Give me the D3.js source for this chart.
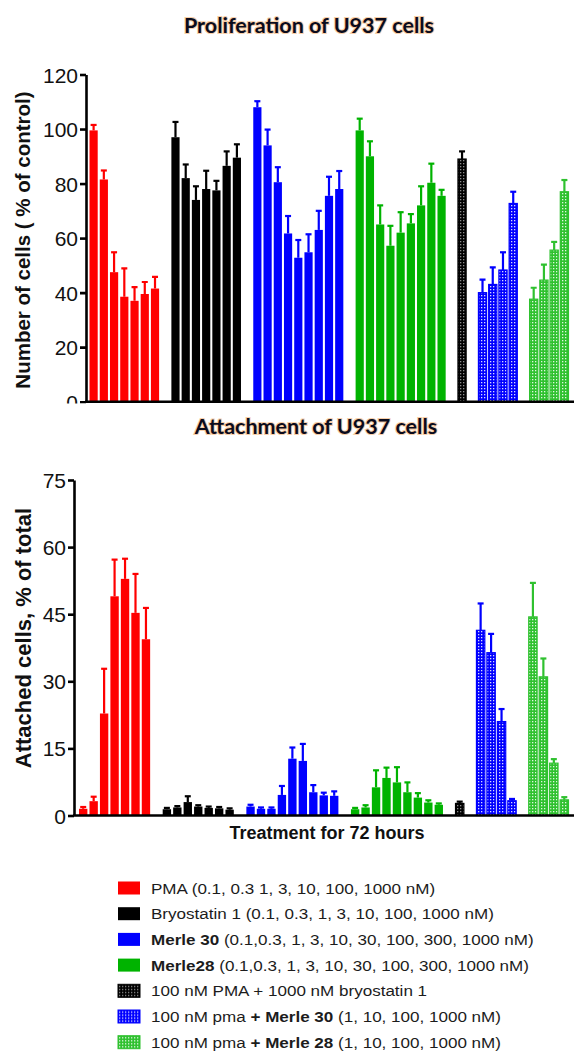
<!DOCTYPE html>
<html>
<head>
<meta charset="utf-8">
<script src="https://cdn.jsdelivr.net/npm/d3@7"></script>
<style>
  body { margin: 0; background: #fff; }
  svg { display: block; }
  .tick text { font-family: "Liberation Sans", Arial, sans-serif; }
</style>
</head>
<body>
<div id="chart"></div>
<script>
// groups, in drawing order
const groups = ["PMA", "Bryostatin 1", "Merle 30", "Merle28", "PMA + bryo", "pma + Merle 30", "pma + Merle 28"];
const groupColors = ["#ff0000", "#000000", "#0000ff", "#00b300", "#000000", "#0000ff", "#2fc12f"];
const groupHatched = [false, false, false, false, true, true, true];

// proliferation, % of control
const prolifPMA = [99.5, 81.5, 47.5, 38.5, 37, 39.5, 41.5];
const prolifPMAErr = [2, 3.3, 7.3, 10.4, 5, 4.4, 4.3];
const prolifBryo = [97, 82, 74, 78, 77.5, 86.5, 89.5];
const prolifBryoErr = [5.6, 5, 5, 6.7, 3.5, 5.3, 4.9];
const prolifM30 = [108, 94, 80.5, 61.7, 52.8, 54.8, 63, 75.5, 78];
const prolifM30Err = [2.2, 5.8, 5.5, 6.4, 6.5, 6.6, 7, 7, 6.6];
const prolifM28 = [99.5, 90, 65, 57.2, 62, 65.4, 72, 80.3, 75.5];
const prolifM28Err = [4.3, 5.5, 7, 7.3, 7.5, 3.4, 7, 7, 2.2];
const prolifPmaBryo = [89];
const prolifPmaBryoErr = [2.8];
const prolifPmaM30 = [40, 43, 48.3, 72.7];
const prolifPmaM30Err = [4.8, 6.3, 6.5, 4.3];
const prolifPmaM28 = [37.6, 44.6, 55.6, 77];
const prolifPmaM28Err = [4.2, 5.7, 3, 4.3];

// attachment, % of total
const attachPMA = [1.5, 3.2, 22.8, 49, 52.9, 45.3, 39.4];
const attachPMAErr = [0.4, 1, 10, 8.2, 4.5, 8.7, 7];
const attachBryo = [1.4, 1.8, 3.0, 2.0, 1.7, 1.6, 1.3];
const attachBryoErr = [0.3, 0.3, 1.3, 0.3, 0.3, 0.3, 0.3];
const attachM30 = [2.0, 1.5, 1.5, 4.6, 12.7, 12.2, 5.2, 4.5, 4.4];
const attachM30Err = [0.4, 0.3, 0.3, 2.0, 2.5, 3.8, 1.6, 0.6, 1.0];
const attachM28 = [1.4, 1.8, 6.3, 8.4, 7.4, 5.2, 4.0, 2.9, 2.4];
const attachM28Err = [0.3, 0.5, 3.8, 2.3, 3.4, 2.2, 1.0, 0.5, 0.3];
const attachPmaBryo = [2.7];
const attachPmaBryoErr = [0.4];
const attachPmaM30 = [41.4, 36.4, 21, 3.3];
const attachPmaM30Err = [6, 4.2, 2.8, 0.4];
const attachPmaM28 = [44.4, 31, 11.7, 3.5];
const attachPmaM28Err = [7.6, 4.1, 0.9, 0.6];

const prolifTicks = [0, 20, 40, 60, 80, 100, 120];
const attachTicks = [0, 15, 30, 45, 60, 75];

const legendItems = [
  [["PMA (0.1, 0.3 1, 3, 10, 100, 1000 nM)", false]],
  [["Bryostatin 1 (0.1, 0.3, 1, 3, 10, 100, 1000 nM)", false]],
  [["Merle 30", true], [" (0.1,0.3, 1, 3, 10, 30, 100, 300, 1000 nM)", false]],
  [["Merle28", true], [" (0.1,0.3, 1, 3, 10, 30, 100, 300, 1000 nM)", false]],
  [["100 nM PMA + 1000 nM bryostatin 1", false]],
  [["100 nM pma ", false], ["+ Merle 30", true], [" (1, 10, 100, 1000 nM)", false]],
  [["100 nM pma ", false], ["+ Merle 28", true], [" (1, 10, 100, 1000 nM)", false]]
];

const W = 574, H = 1051;
const svg = d3.select("#chart").append("svg").attr("width", W).attr("height", H);
const defs = svg.append("defs");

// mesh fill for the combination bars
groupColors.forEach((c, i) => {
  if (!groupHatched[i]) return;
  const p = defs.append("pattern").attr("id", "mesh" + i)
    .attr("patternUnits", "userSpaceOnUse").attr("width", 3).attr("height", 3);
  p.append("rect").attr("width", 3).attr("height", 3).attr("fill", c);
  p.append("rect").attr("x", 1).attr("y", 1).attr("width", 1.3).attr("height", 1.3)
    .attr("fill", "#fff").attr("opacity", i === 4 ? 0.55 : 0.85);
});

function fillFor(i) {
  return groupHatched[i] ? `url(#mesh${i})` : groupColors[i];
}

// builds flat bar records + slot keys (one empty slot between groups)
function buildBars(series, errs) {
  const bars = [], keys = [];
  series.forEach((vals, gi) => {
    vals.forEach((v, j) => {
      const key = gi + "-" + j;
      keys.push(key);
      bars.push({ key, g: gi, v, e: errs[gi][j] });
    });
    if (gi < series.length - 1) keys.push("gap" + gi);
  });
  return { bars, keys };
}

function title(text, x, y) {
  svg.append("text").attr("x", x).attr("y", y).attr("text-anchor", "middle")
    .attr("font-family", "Lato, 'Open Sans', sans-serif").attr("font-weight", "bold")
    .attr("font-size", 21.5).attr("fill", "none")
    .attr("stroke", "#f0a55e").attr("stroke-opacity", 0.55).attr("stroke-width", 2.2)
    .text(text);
  svg.append("text").attr("x", x).attr("y", y).attr("text-anchor", "middle")
    .attr("font-family", "Lato, 'Open Sans', sans-serif").attr("font-weight", "bold")
    .attr("font-size", 21.5).attr("fill", "#0b0b1c")
    .text(text);
}

function drawPanel(opts) {
  const { series, errs, ticks, yRange, xRange, axisX, label, labelPos, labelSize, clipBottom } = opts;
  const { bars, keys } = buildBars(series, errs);

  const x = d3.scaleBand().domain(keys).range(xRange).paddingInner(0.2).paddingOuter(0.05);
  const y = d3.scaleLinear().domain([0, d3.max(ticks)]).range(yRange);

  let g = svg.append("g");
  if (clipBottom) {
    const id = "clip" + Math.round(clipBottom);
    defs.append("clipPath").attr("id", id).append("rect")
      .attr("x", 0).attr("y", 0).attr("width", W).attr("height", clipBottom);
    g.attr("clip-path", `url(#${id})`);
  }

  // error bars (up only)
  const eb = g.append("g").selectAll("g").data(bars).join("g")
    .attr("stroke", d => groupColors[d.g]).attr("stroke-width", 2.2);
  eb.append("line")
    .attr("x1", d => x(d.key) + x.bandwidth() / 2).attr("x2", d => x(d.key) + x.bandwidth() / 2)
    .attr("y1", d => y(d.v)).attr("y2", d => y(d.v + d.e));
  eb.append("line")
    .attr("x1", d => x(d.key) + x.bandwidth() / 2 - 3).attr("x2", d => x(d.key) + x.bandwidth() / 2 + 3)
    .attr("y1", d => y(d.v + d.e)).attr("y2", d => y(d.v + d.e));

  g.append("g").selectAll("rect").data(bars).join("rect")
    .attr("x", d => x(d.key)).attr("width", x.bandwidth())
    .attr("y", d => y(d.v)).attr("height", d => y(0) - y(d.v))
    .attr("fill", d => fillFor(d.g))
    .attr("stroke", d => groupHatched[d.g] ? groupColors[d.g] : "none")
    .attr("stroke-width", 1.2);

  // y axis
  const ya = g.append("g").attr("transform", `translate(${axisX},0)`)
    .call(d3.axisLeft(y).tickValues(ticks).tickSize(6).tickPadding(2).tickSizeOuter(0));
  ya.select(".domain").attr("stroke-width", 2.6);
  ya.selectAll(".tick line").attr("stroke-width", 2.6);
  ya.selectAll(".tick text").attr("font-size", 21).attr("fill", "#111").attr("dy", "0.36em");

  // x baseline
  g.append("line").attr("x1", axisX - 1).attr("x2", W)
    .attr("y1", y(0)).attr("y2", y(0)).attr("stroke", "#000").attr("stroke-width", 2.6);

  svg.append("text")
    .attr("transform", `translate(${labelPos[0]},${labelPos[1]}) rotate(-90)`)
    .attr("text-anchor", "middle")
    .attr("font-family", "'Liberation Sans', Arial, sans-serif").attr("font-weight", "bold")
    .attr("font-size", labelSize).attr("fill", "#111")
    .text(label);
}

title("Proliferation of U937 cells", 309, 33);
drawPanel({
  series: [prolifPMA, prolifBryo, prolifM30, prolifM28, prolifPmaBryo, prolifPmaM30, prolifPmaM28],
  errs: [prolifPMAErr, prolifBryoErr, prolifM30Err, prolifM28Err, prolifPmaBryoErr, prolifPmaM30Err, prolifPmaM28Err],
  ticks: prolifTicks,
  yRange: [401.7, 74.5],
  xRange: [89, 569],
  axisX: 86,
  label: "Number of cells ( % of control)",
  labelPos: [30, 240],
  labelSize: 20.5,
  clipBottom: 403.5
});

title("Attachment of U937 cells", 316, 434);
drawPanel({
  series: [attachPMA, attachBryo, attachM30, attachM28, attachPmaBryo, attachPmaM30, attachPmaM28],
  errs: [attachPMAErr, attachBryoErr, attachM30Err, attachM28Err, attachPmaBryoErr, attachPmaM30Err, attachPmaM28Err],
  ticks: attachTicks,
  yRange: [815.5, 480],
  xRange: [78.5, 569],
  axisX: 74,
  label: "Attached cells, % of total",
  labelPos: [31, 638],
  labelSize: 22
});

svg.append("text").attr("x", 327).attr("y", 839).attr("text-anchor", "middle")
  .attr("font-family", "'Liberation Sans', Arial, sans-serif").attr("font-weight", "bold")
  .attr("font-size", 18).attr("fill", "#111")
  .text("Treatment for 72 hours");

// legend
const leg = svg.append("g").selectAll("g").data(legendItems).join("g")
  .attr("transform", (d, i) => `translate(118,${888 + i * 25.7})`);
leg.append("rect").attr("x", 0).attr("y", -6.5).attr("width", 22).attr("height", 13)
  .attr("fill", (d, i) => fillFor(i))
  .attr("stroke", (d, i) => groupHatched[i] ? groupColors[i] : "none").attr("stroke-width", 1);
leg.append("text").attr("transform", "translate(33,5.5) scale(1.1,1)")
  .attr("font-family", "'Liberation Sans', Arial, sans-serif").attr("font-size", 15.5).attr("fill", "#1c1c1c")
  .selectAll("tspan").data(d => d).join("tspan")
  .attr("font-weight", d => d[1] ? "bold" : "normal")
  .text(d => d[0]);
</script>
</body>
</html>
